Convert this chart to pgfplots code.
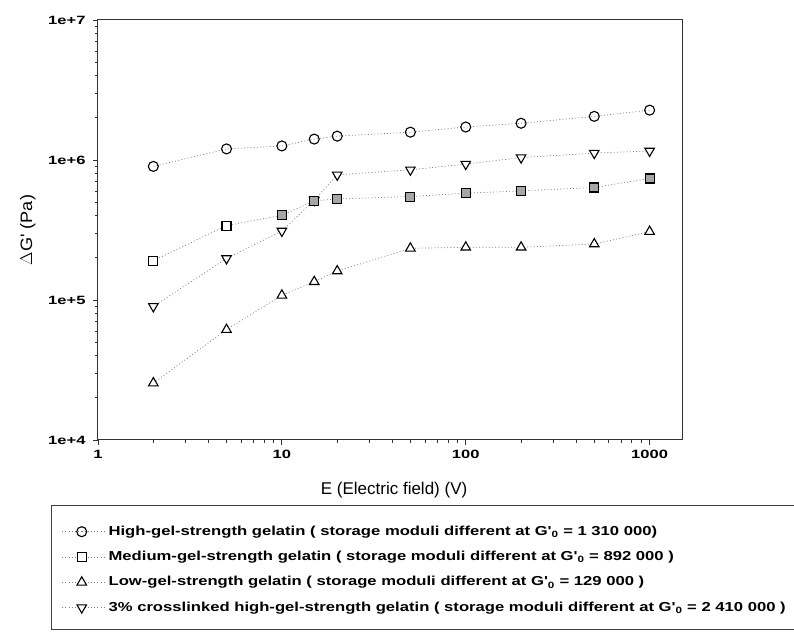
\documentclass[border=0pt]{standalone}
\usepackage{fontspec}
\setmainfont{Liberation Sans}
\newfontfamily\tickfont{Liberation Sans}[FakeStretch=1.38]
\newfontfamily\ylabfont{Liberation Sans}[FakeStretch=1.1]
\newfontfamily\legfont{Liberation Sans}[FakeStretch=1.28]
\usepackage{pgfplots}
\pgfplotsset{compat=1.18}

\pgfplotstableread{
x y
2 9.0e5
5 1.20e6
10 1.26e6
15 1.41e6
20 1.48e6
50 1.58e6
100 1.72e6
200 1.83e6
500 2.05e6
1000 2.27e6
}\highgel
\pgfplotstableread{
x y
2 1.91e5
5 3.40e5
10 4.03e5
15 5.11e5
20 5.27e5
50 5.48e5
100 5.79e5
200 6.02e5
500 6.36e5
1000 7.38e5
}\medgel
\pgfplotstableread{
x y
10 4.03e5
15 5.11e5
20 5.27e5
50 5.48e5
100 5.79e5
200 6.02e5
500 6.36e5
1000 7.38e5
}\medgelfilled
\pgfplotstableread{
x y
2 2.55e4
5 6.14e4
10 1.08e5
15 1.35e5
20 1.61e5
50 2.34e5
100 2.38e5
200 2.38e5
500 2.51e5
1000 3.08e5
}\lowgel
\pgfplotstableread{
x y
2 9.0e4
5 1.98e5
10 3.11e5
15 5.16e5
20 7.83e5
50 8.51e5
100 9.35e5
200 1.04e6
500 1.12e6
1000 1.16e6
}\crossgel

\begin{document}
\begin{tikzpicture}[x=1pt,y=1pt]
\path[use as bounding box] (-98,-192) rectangle (696,440);
\begin{axis}[
  at={(0,0)}, anchor=south west,
  scale only axis, width=584pt, height=420pt,
  xmode=log, ymode=log,
  xmin=1, xmax=1500, ymin=1e4, ymax=1e7,
  xtick={1,10,100,1000}, xticklabels={1,10,100,1000},
  ytick={1e4,1e5,1e6,1e7}, yticklabels={1e+4,1e+5,1e+6,1e+7},
  minor xtick={2,3,4,5,6,7,8,9,20,30,40,50,60,70,80,90,200,300,400,500,600,700,800,900},
  minor ytick={2e4,3e4,4e4,5e4,6e4,7e4,8e4,9e4,2e5,3e5,4e5,5e5,6e5,7e5,8e5,9e5,2e6,3e6,4e6,5e6,6e6,7e6,8e6,9e6},
  xtick pos=bottom, ytick pos=left,
  tick align=outside,
  major tick length=5pt, minor tick length=3pt,
  tick style={black!80, line width=0.8pt},
  axis line style={black!80, line width=1pt},
  ticklabel style={font=\tickfont\bfseries\fontsize{12}{13}\selectfont},
  yticklabel style={xshift=-4pt},
  xticklabel style={yshift=-2pt},
  /pgf/number format/assume math mode=true,
  xlabel={E (Electric field) (V)},
  xlabel style={font=\fontsize{17}{19}\selectfont, at={(axis description cs:0.507,-0.119)}, anchor=center},
  ylabel={$\Delta$G' (Pa)},
  ylabel style={font=\ylabfont\fontsize{16.5}{18}\selectfont, at={(axis description cs:-0.12,0.5)}, anchor=center},
  legend style={at={(axis description cs:0,0)}, anchor=north west, xshift=-36.3pt, yshift=-83pt,
    draw=none, fill=none, inner sep=0pt, row sep=8.3pt,
    font=\legfont\bfseries\fontsize{13}{15}\selectfont,
    nodes={text height=10pt, text depth=3pt}},
  legend cell align=left,
  legend image code/.code={\path (0pt,0pt) -- (44pt,0pt);\draw[mark repeat=2,mark phase=2,#1] plot coordinates {(0pt,0pt) (19.5pt,0pt) (39pt,0pt)};},
  every axis plot/.append style={gray, line width=0.7pt, dash pattern=on 1pt off 2.2pt},
  mk/.style={mark options={solid, draw=black, line width=1.1pt, fill=white, #1}},
  mk/.default={},
]
\addplot[mark=o, mark size=5pt, mk] table {\highgel};
\addlegendentry{High-gel-strength gelatin ( storage moduli different at G'\textsubscript{0} = 1 310 000)}
\addplot[mark=square*, mark size=4.5pt, mk] table {\medgel};
\addlegendentry{Medium-gel-strength gelatin ( storage moduli different at G'\textsubscript{0} = 892 000 )}
\addplot[mark=triangle*, mark size=5.5pt, mk] table {\lowgel};
\addlegendentry{Low-gel-strength gelatin ( storage moduli different at G'\textsubscript{0} = 129 000 )}
\addplot[mark=triangle*, mark size=5.5pt, mk={rotate=180}] table {\crossgel};
\addlegendentry{3\% crosslinked high-gel-strength gelatin ( storage moduli different at G'\textsubscript{0} = 2 410 000 )}
\addplot[forget plot, only marks, mark=square*, mark size=4.5pt, mk={fill=gray!70}] table {\medgelfilled};
\end{axis}
\draw[line width=1pt, black!75] (-46,-65) rectangle (730,-189);
\end{tikzpicture}
\end{document}
